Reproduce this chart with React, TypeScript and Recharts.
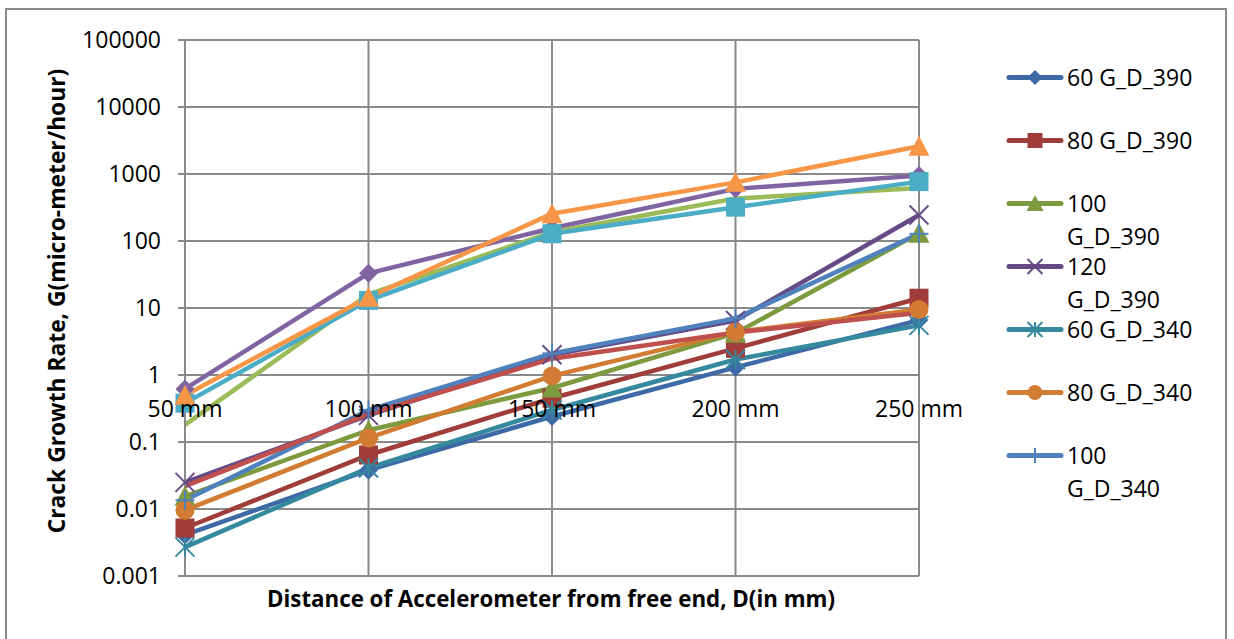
import React from 'react'
import { LineChart, Line, XAxis, YAxis, CartesianGrid } from 'recharts'

// categories
const distances = ['50 mm', '100 mm', '150 mm', '200 mm', '250 mm']

// crack growth rate per series (log scale)
const g60_390 = [0.0041, 0.038, 0.24, 1.3, 6.6]
const g80_390 = [0.0052, 0.064, 0.45, 2.5, 14]
const g100_390 = [0.0155, 0.15, 0.64, 4.2, 130]
const g120_390 = [0.025, 0.25, 2.0, 6.5, 245]
const g60_340 = [0.0027, 0.041, 0.3, 1.7, 5.5]
const g80_340 = [0.0096, 0.115, 0.97, 4.4, 9.5]
const g100_340 = [0.0135, 0.3, 2.1, 7.0, 128]
const g120_340 = [0.022, 0.26, 1.75, 4.3, 8.5]
const upperPurple = [0.62, 33, 155, 600, 950]
const upperGreen = [0.18, 16, 135, 430, 620]
const upperBlue = [0.38, 13, 128, 320, 770]
const upperOrange = [0.5, 14.5, 255, 750, 2600]

const yTicks = [0.001, 0.01, 0.1, 1, 10, 100, 1000, 10000, 100000]

const FONT = '"Open Sans", Lato, sans-serif'
const W = 1234
const H = 639
const PLOT_TOP = 40
const PLOT_BOTTOM = 576
const PLOT_LEFT = 185
const PLOT_RIGHT = 919
const GRID = '#8a8a8a'

// pixel row of the value 1, where the category axis crosses
const yOne =
  PLOT_TOP +
  ((PLOT_BOTTOM - PLOT_TOP) * Math.log10(yTicks[yTicks.length - 1])) /
    (Math.log10(yTicks[yTicks.length - 1]) - Math.log10(yTicks[0]))

type Shape = 'diamond' | 'square' | 'triangle' | 'cross' | 'star' | 'circle' | 'plus' | 'none'

interface Series {
  key: string
  name: string
  values: number[]
  color: string
  shape: Shape
  inLegend: boolean
}

const series: Series[] = [
  { key: 's1', name: '60 G_D_390', values: g60_390, color: '#3D6AA6', shape: 'diamond', inLegend: true },
  { key: 's2', name: '80 G_D_390', values: g80_390, color: '#A03C3A', shape: 'square', inLegend: true },
  { key: 's3', name: '100 G_D_390', values: g100_390, color: '#7D9B3E', shape: 'triangle', inLegend: true },
  { key: 's4', name: '120 G_D_390', values: g120_390, color: '#654A86', shape: 'cross', inLegend: true },
  { key: 's5', name: '60 G_D_340', values: g60_340, color: '#35899F', shape: 'star', inLegend: true },
  { key: 's6', name: '80 G_D_340', values: g80_340, color: '#D27B32', shape: 'circle', inLegend: true },
  { key: 's7', name: '100 G_D_340', values: g100_340, color: '#4F81BD', shape: 'plus', inLegend: true },
  { key: 's8', name: '120 G_D_340', values: g120_340, color: '#C0504D', shape: 'none', inLegend: false },
  { key: 's9', name: 'series 9', values: upperPurple, color: '#8064A2', shape: 'diamond', inLegend: false },
  { key: 's10', name: 'series 10', values: upperGreen, color: '#9BBB59', shape: 'none', inLegend: false },
  { key: 's11', name: 'series 11', values: upperBlue, color: '#4BACC6', shape: 'square', inLegend: false },
  { key: 's12', name: 'series 12', values: upperOrange, color: '#F79646', shape: 'triangle', inLegend: false },
]

const data = distances.map((d, i) => {
  const row: Record<string, string | number> = { d }
  series.forEach((s) => {
    row[s.key] = s.values[i]
  })
  return row
})

function Marker({ cx, cy, shape, color, r = 9.5 }: { cx?: number; cy?: number; shape: Shape; color: string; r?: number }) {
  if (cx == null || cy == null || shape === 'none') return <g />
  switch (shape) {
    case 'diamond':
      return <path d={`M${cx},${cy - r}L${cx + r},${cy}L${cx},${cy + r}L${cx - r},${cy}Z`} fill={color} />
    case 'square':
      return <rect x={cx - r} y={cy - r} width={2 * r} height={2 * r} fill={color} />
    case 'triangle':
      return <path d={`M${cx},${cy - r - 1}L${cx + r + 1},${cy + r}L${cx - r - 1},${cy + r}Z`} fill={color} />
    case 'circle':
      return <circle cx={cx} cy={cy} r={r} fill={color} />
    case 'cross':
      return (
        <g stroke={color} strokeWidth={2}>
          <line x1={cx - r} y1={cy - r} x2={cx + r} y2={cy + r} />
          <line x1={cx - r} y1={cy + r} x2={cx + r} y2={cy - r} />
        </g>
      )
    case 'star':
      return (
        <g stroke={color} strokeWidth={2}>
          <line x1={cx - r} y1={cy - r} x2={cx + r} y2={cy + r} />
          <line x1={cx - r} y1={cy + r} x2={cx + r} y2={cy - r} />
          <line x1={cx} y1={cy - r} x2={cx} y2={cy + r} />
        </g>
      )
    case 'plus':
      return (
        <g stroke={color} strokeWidth={2}>
          <line x1={cx - r} y1={cy} x2={cx + r} y2={cy} />
          <line x1={cx} y1={cy - r} x2={cx} y2={cy + r} />
        </g>
      )
  }
  return <g />
}

function XTick({ x, payload }: any) {
  return (
    <text x={x} y={yOne + 34} dy="0.35em" textAnchor="middle" fontFamily={FONT} fontSize={23} fill="#000">
      {payload.value}
    </text>
  )
}

function LegendBox() {
  return (
    <div style={{ position: 'absolute', left: 1005, top: 46, fontFamily: FONT, fontSize: 23, color: '#000' }}>
      {series
        .filter((s) => s.inLegend)
        .map((s) => (
          <div key={s.key} style={{ position: 'relative', height: 63 }}>
            <div style={{ position: 'absolute', top: 15, left: 0, display: 'flex', alignItems: 'flex-start' }}>
              <svg width={60} height={33}>
                <line x1={4} x2={56} y1={16.5} y2={16.5} stroke={s.color} strokeWidth={5} strokeLinecap="round" />
                <Marker cx={30} cy={16.5} shape={s.shape} color={s.color} r={7.5} />
              </svg>
              <div style={{ width: 134, lineHeight: '33px', marginLeft: 2 }}>{s.name}</div>
            </div>
          </div>
        ))}
    </div>
  )
}

export default function App() {
  return (
    <div style={{ position: 'absolute', left: 0, top: 0, width: W, height: H, background: '#fff', overflow: 'hidden' }}>
      <div
        style={{
          position: 'absolute',
          left: 5,
          top: 8,
          width: W - 12,
          height: H,
          border: `2px solid ${GRID}`,
          boxSizing: 'border-box',
        }}
      />
      <div style={{ position: 'absolute', left: 0, top: 0 }}>
        <LineChart
          width={W}
          height={H}
          data={data}
          margin={{ top: PLOT_TOP, right: W - PLOT_RIGHT, bottom: H - PLOT_BOTTOM - 30, left: 0 }}
        >
          <CartesianGrid stroke={GRID} strokeWidth={2} />
          <XAxis
            dataKey="d"
            height={30}
            axisLine={false}
            tickLine={false}
            tick={<XTick />}
            interval={0}
            label={{
              content: () => (
                <text x={551} y={599} dy="0.35em" textAnchor="middle" fontFamily={FONT} fontWeight="bold" fontSize={22.3} fill="#000">
                  Distance of Accelerometer from free end, D(in mm)
                </text>
              ),
            }}
          />
          <YAxis
            width={PLOT_LEFT}
            type="number"
            scale="log"
            domain={[yTicks[0], yTicks[yTicks.length - 1]]}
            ticks={yTicks}
            interval={0}
            tickFormatter={(v: number) => String(v)}
            axisLine={{ stroke: GRID, strokeWidth: 2 }}
            tickLine={{ stroke: GRID, strokeWidth: 2 }}
            tickSize={7}
            tickMargin={17}
            tick={{ fill: '#000', fontFamily: FONT, fontSize: 23 }}
            label={{
              content: () => (
                <text
                  x={57}
                  y={301}
                  dy="0.35em"
                  textAnchor="middle"
                  transform="rotate(-90 57 301)"
                  fontFamily={FONT}
                  fontWeight="bold"
                  fontSize={22.8}
                  fill="#000"
                >
                  Crack Growth Rate, G(micro-meter/hour)
                </text>
              ),
            }}
          />
          {series.map((s) => (
            <Line
              key={s.key}
              dataKey={s.key}
              name={s.name}
              type="linear"
              stroke={s.color}
              strokeWidth={4.5}
              isAnimationActive={false}
              dot={(p: any) => (
                <Marker key={`${s.key}-${p.index}`} cx={p.cx} cy={p.cy} shape={s.shape} color={s.color} />
              )}
              activeDot={false}
            />
          ))}
        </LineChart>
      </div>
      <LegendBox />
    </div>
  )
}
